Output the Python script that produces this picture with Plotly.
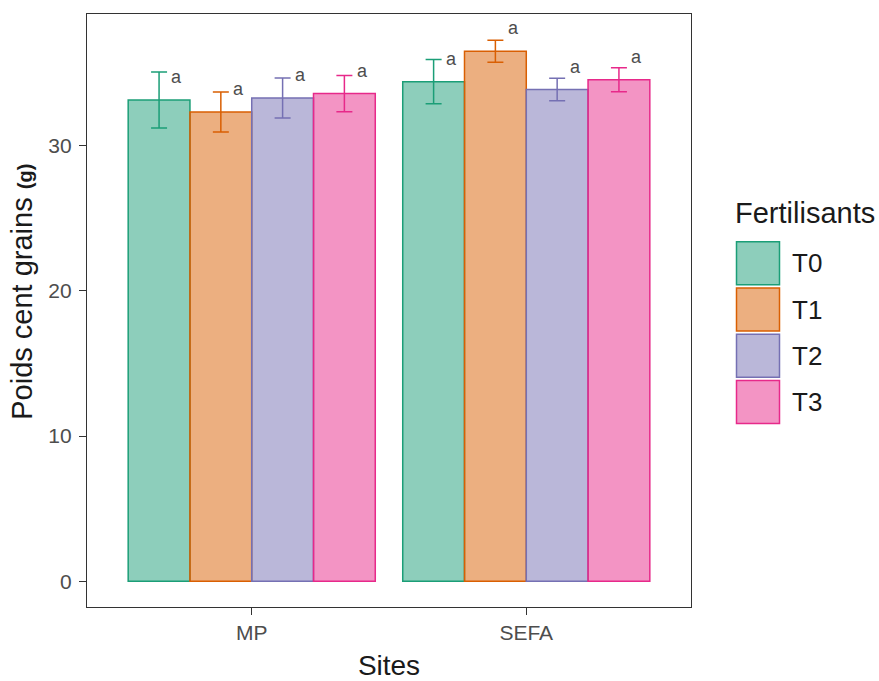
import plotly.graph_objects as go

# ---- data ----
sites = ["MP", "SEFA"]
fertilisants = ["T0", "T1", "T2", "T3"]
means = {
    "T0": [33.15, 34.41],
    "T1": [32.32, 36.50],
    "T2": [33.28, 33.87],
    "T3": [33.59, 34.54],
}
sds = {
    "T0": [1.93, 1.52],
    "T1": [1.38, 0.76],
    "T2": [1.38, 0.78],
    "T3": [1.25, 0.83],
}
letters = {
    "T0": ["a", "a"],
    "T1": ["a", "a"],
    "T2": ["a", "a"],
    "T3": ["a", "a"],
}
y_ticks = [0, 10, 20, 30]

# ---- style ----
line_colors = ["#1B9E77", "#D95F02", "#7570B3", "#E7298A"]
fill_colors = ["rgba(27,158,119,0.5)", "rgba(217,95,2,0.5)",
               "rgba(117,112,179,0.5)", "rgba(231,41,138,0.5)"]
FONT = "Arial, Liberation Sans, sans-serif"
dodge = 0.9
n = len(fertilisants)
bw = dodge / n
label_offset = 1.58
label_dx = 0.065

x_pos = list(range(1, len(sites) + 1))

FW, FH = 879, 681
L, R, T, B = 87, 691, 14, 607.5
W, H = R - L, B - T
px = lambda v: (v - L) / W
py = lambda v: (B - v) / H

fig = go.Figure()
for j, f in enumerate(fertilisants):
    fig.add_trace(go.Bar(
        x=x_pos, y=means[f], name=f,
        marker=dict(color=fill_colors[j], line=dict(color=line_colors[j], width=1.5)),
        error_y=dict(type="data", array=sds[f], color=line_colors[j],
                     thickness=1.5, width=8),
        showlegend=False,
    ))
    for i, xv in enumerate(x_pos):
        fig.add_annotation(
            x=xv + (j - (n - 1) / 2) * bw + label_dx,
            y=means[f][i] + label_offset,
            text=letters[f][i], showarrow=False,
            font=dict(family=FONT, size=18, color="#4D4D4D"),
            xanchor="center", yanchor="middle",
        )

# ---- y axis title (as rotated annotation) ----
fig.add_annotation(x=px(22), y=py(292), xref="paper", yref="paper",
                   text="Poids cent grains <b><span style='font-size:20px'>(g)</span></b>",
                   textangle=-90, showarrow=False, xanchor="center", yanchor="middle",
                   font=dict(family=FONT, size=29, color="#1a1a1a"))

# ---- manual legend ----
fig.add_annotation(x=px(733), y=py(213), xref="paper", yref="paper",
                   text="Fertilisants", showarrow=False, xanchor="left",
                   yanchor="middle", font=dict(family=FONT, size=29, color="#1a1a1a"))
key_top0, key_step, key_size = 242, 46.3, 43
for j, f in enumerate(fertilisants):
    top = key_top0 + j * key_step
    fig.add_shape(type="rect", xref="paper", yref="paper",
                  x0=px(736.5), x1=px(736.5 + key_size),
                  y0=py(top + key_size), y1=py(top),
                  fillcolor=fill_colors[j],
                  line=dict(color=line_colors[j], width=1.5))
    fig.add_annotation(x=px(790), y=py(top + key_size / 2), xref="paper", yref="paper",
                       text=f, showarrow=False, xanchor="left", yanchor="middle",
                       font=dict(family=FONT, size=26, color="#1a1a1a"))

fig.update_layout(
    width=FW, height=FH,
    margin=dict(l=L, r=FW - R, t=T, b=FH - B, autoexpand=False),
    paper_bgcolor="white", plot_bgcolor="white",
    barmode="group", bargap=1 - dodge, bargroupgap=0,
    font=dict(family=FONT),
    showlegend=False,
)
fig.update_xaxes(
    range=[0.4, len(sites) + 0.6],
    tickvals=x_pos, ticktext=sites,
    showgrid=False, zeroline=False,
    showline=True, mirror=True, linecolor="#333333", linewidth=1.3,
    ticks="outside", ticklen=7, tickcolor="#333333", tickwidth=1.3,
    tickfont=dict(family=FONT, size=21, color="#4D4D4D"),
    title=dict(text="Sites", font=dict(family=FONT, size=28, color="#1a1a1a"), standoff=12),
)
fig.update_yaxes(
    range=[-1.78, 39.07],
    tickvals=y_ticks,
    showgrid=False, zeroline=False,
    showline=True, mirror=True, linecolor="#333333", linewidth=1.3,
    ticks="outside", ticklen=7, tickcolor="#333333", tickwidth=1.3,
    tickfont=dict(family=FONT, size=21, color="#4D4D4D"),
    ticklabelstandoff=3,
)

fig.write_html(
    "out.html",
    config={"displayModeBar": False},
    post_script="document.body.style.margin='0';document.body.style.overflow='hidden';",
)
